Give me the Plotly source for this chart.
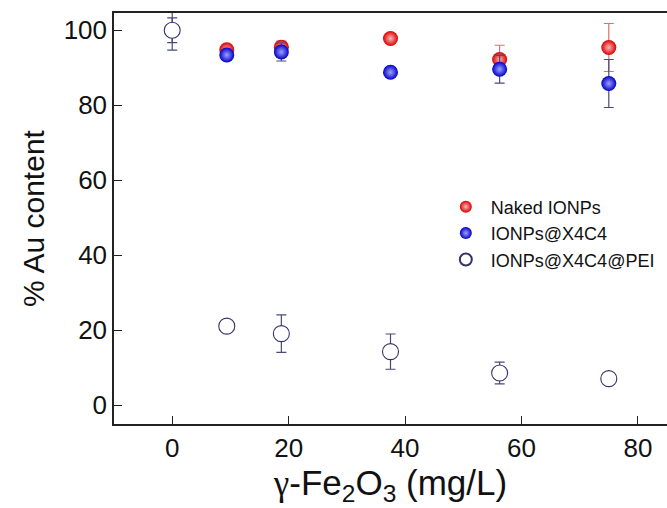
import plotly.graph_objects as go

# γ-Fe2O3 concentration (mg/L)
conc = [0, 9.375, 18.75, 37.5, 56.25, 75]

# % Au content and standard deviations for each particle type
naked_au = [100, 94.8, 95.5, 97.8, 92.2, 95.4]
naked_err = [1.0, 0.8, 1.6, 0.6, 3.8, 6.4]

x4c4_au = [100, 93.4, 94.2, 88.8, 89.6, 85.8]
x4c4_err = [3.3, 0.6, 2.4, 0.6, 3.7, 6.4]

pei_au = [100, 21.1, 19.1, 14.3, 8.6, 7.1]
pei_err = [5.3, 0.8, 5.0, 4.7, 2.9, 1.0]

series_names = ["Naked IONPs", "IONPs@X4C4", "IONPs@X4C4@PEI"]
x_ticks = [0, 20, 40, 60, 80]
y_ticks = [0, 20, 40, 60, 80, 100]

FONT = "Liberation Sans, Arial, sans-serif"

fig = go.Figure()

fig.add_trace(go.Scatter(
    x=conc, y=naked_au, mode="markers", name=series_names[0],
    error_y=dict(type="data", array=naked_err, color="#dc7070", thickness=1.2, width=5),
    marker=dict(size=15, color="#d80000",
                gradient=dict(type="radial", color="#ffb8b8"),
                line=dict(width=0)),
))

fig.add_trace(go.Scatter(
    x=conc, y=x4c4_au, mode="markers", name=series_names[1],
    error_y=dict(type="data", array=x4c4_err, color="#4a4a80", thickness=1.2, width=5),
    marker=dict(size=15, color="#0000c8",
                gradient=dict(type="radial", color="#a0a0ff"),
                line=dict(width=0)),
))

fig.add_trace(go.Scatter(
    x=conc, y=pei_au, mode="markers", name=series_names[2],
    error_y=dict(type="data", array=pei_err, color="#4a4a78", thickness=1.2, width=5),
    marker=dict(size=16, color="white", symbol="circle",
                line=dict(width=1.1, color="#33336a")),
))

axis_common = dict(
    showline=True, linecolor="#222", linewidth=1.5,
    ticks="inside", ticklen=8, tickwidth=1.3, tickcolor="#222",
    showgrid=False, zeroline=False,
    tickfont=dict(family=FONT, size=26, color="#111"),
)

x_title = ('<span style="font-family:Liberation Serif">γ</span>'
           '-Fe<sub>2</sub>O<sub>3</sub> (mg/L)')

fig.update_layout(
    width=667, height=508,
    margin=dict(l=114, r=0, t=13, b=84),
    paper_bgcolor="white", plot_bgcolor="white",
    font=dict(family=FONT, color="#111"),
    xaxis=dict(
        range=[-10, 85], tickvals=x_ticks, mirror=True,
        title=dict(text=x_title,
                   font=dict(family=FONT, size=35, color="#111"), standoff=2),
        **axis_common,
    ),
    yaxis=dict(
        range=[-5, 104.6], tickvals=y_ticks, mirror=False,
        title=dict(text="% Au content",
                   font=dict(family=FONT, size=30, color="#111"), standoff=10),
        **axis_common,
    ),
    legend=dict(
        x=0.591, y=0.573, xanchor="left", yanchor="top",
        bgcolor="rgba(0,0,0,0)", borderwidth=0,
        font=dict(family=FONT, size=18, color="#111"),
        itemsizing="constant", itemwidth=40,
    ),
    showlegend=True,
)

fig.write_html("out.html")
